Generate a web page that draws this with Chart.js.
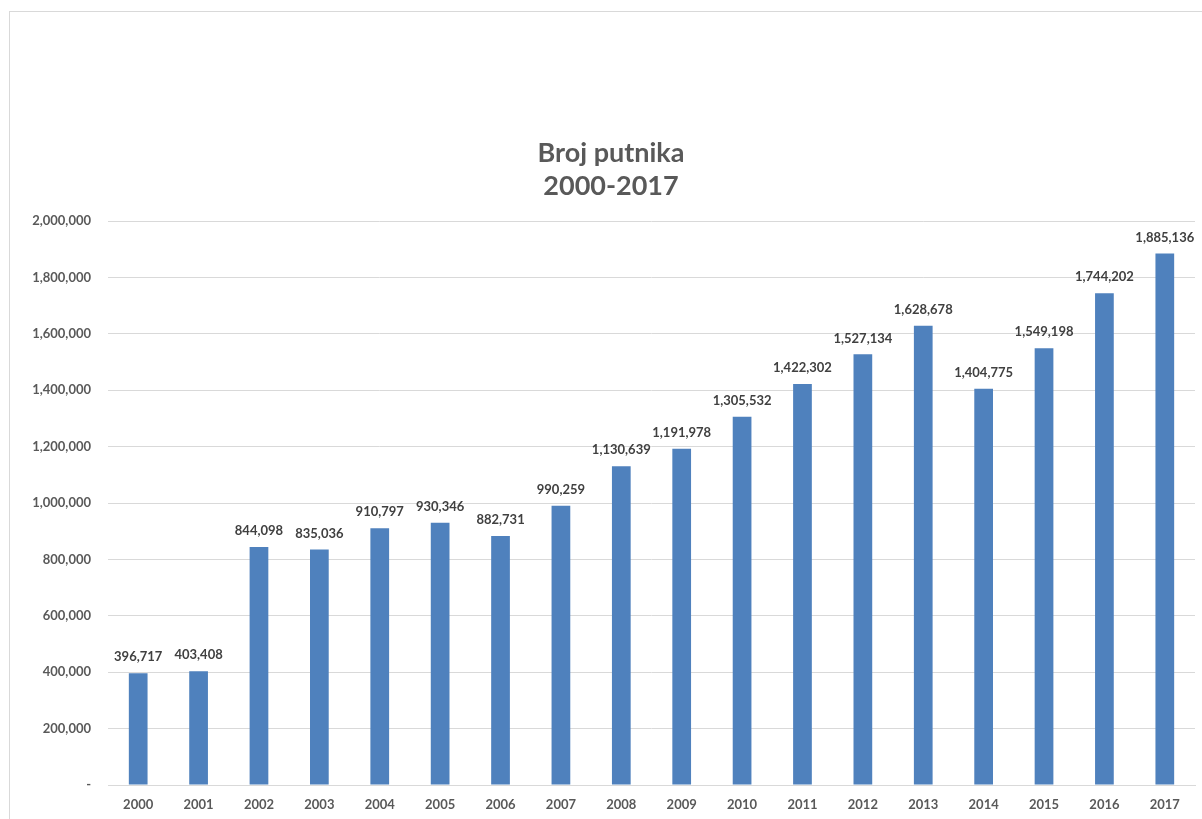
<!DOCTYPE html>
<html>
<head>
<meta charset="utf-8">
<script src="https://cdn.jsdelivr.net/npm/chart.js@4/dist/chart.umd.min.js"></script>
<style>
  html, body { margin: 0; padding: 0; background: #ffffff; }
  #frame { position: absolute; left: 9px; top: 11px; width: 1300px; height: 900px; border-left: 1px solid #d9d9d9; border-top: 1px solid #d9d9d9; }
  #wrap { position: absolute; left: 0; top: 0; width: 1202px; height: 819px; }
</style>
</head>
<body>
<div id="frame"></div>
<div id="wrap"><canvas id="c" width="1202" height="819"></canvas></div>
<script>
const years = ['2000','2001','2002','2003','2004','2005','2006','2007','2008','2009','2010','2011','2012','2013','2014','2015','2016','2017'];
const passengers = [396717, 403408, 844098, 835036, 910797, 930346, 882731, 990259, 1130639, 1191978, 1305532, 1422302, 1527134, 1628678, 1404775, 1549198, 1744202, 1885136];
const titleLines = ['Broj putnika', '2000-2017'];

const fmt = v => v === 0 ? '-' : v.toLocaleString('en-US');
const FONT = 'Lato, "Open Sans", sans-serif';

const dataLabels = {
  id: 'dataLabels',
  afterDatasetsDraw(chart) {
    const ctx = chart.ctx;
    const meta = chart.getDatasetMeta(0);
    ctx.save();
    ctx.font = 'bold 13px ' + FONT;
    ctx.fillStyle = '#404040';
    ctx.textAlign = 'center';
    ctx.textBaseline = 'middle';
    meta.data.forEach((bar, i) => {
      ctx.fillText(fmt(passengers[i]), bar.x, bar.y - 16);
    });
    ctx.restore();
  }
};

// Title centred on the original (wider) chart frame
const titlePlugin = {
  id: 'frameTitle',
  afterDraw(chart) {
    const ctx = chart.ctx;
    ctx.save();
    ctx.font = 'bold 27px ' + FONT;
    ctx.fillStyle = '#595959';
    ctx.textAlign = 'center';
    ctx.textBaseline = 'middle';
    const cx = 611;
    titleLines.forEach((t, i) => ctx.fillText(t, cx, 153 + i * 33));
    ctx.restore();
  }
};

new Chart(document.getElementById('c'), {
  type: 'bar',
  data: {
    labels: years,
    datasets: [{
      data: passengers,
      backgroundColor: '#4f81bd',
      borderWidth: 0,
      barPercentage: 0.31,
      categoryPercentage: 1.0
    }]
  },
  options: {
    responsive: false,
    animation: false,
    layout: { padding: { top: 221, right: 7, bottom: 0, left: 0 } },
    plugins: {
      legend: { display: false },
      tooltip: { enabled: false },
      title: { display: false }
    },
    scales: {
      x: {
        afterFit(scale) { scale.height = 34; },
        grid: { display: false, drawTicks: false },
        border: { display: true, color: '#d9d9d9', width: 1 },
        ticks: { color: '#595959', font: { family: FONT, size: 13, weight: 'bold' }, padding: 12, maxRotation: 0 }
      },
      y: {
        min: 0, max: 2000000,
        afterFit(scale) { scale.width = 108; },
        grid: { color: '#d9d9d9', drawTicks: false },
        border: { display: false },
        ticks: { stepSize: 200000, color: '#595959', font: { family: FONT, size: 13, weight: 'bold' }, padding: 17, callback: v => fmt(v) }
      }
    }
  },
  plugins: [dataLabels, titlePlugin]
});
</script>
</body>
</html>
